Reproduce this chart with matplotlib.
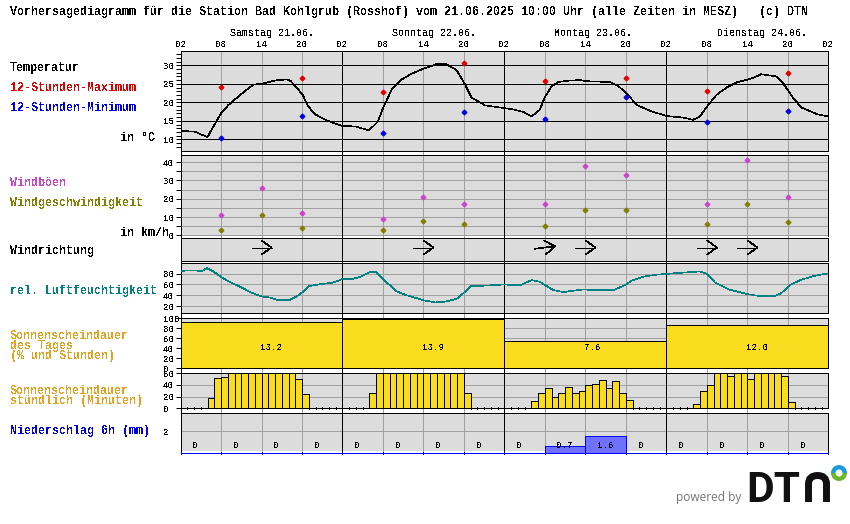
import numpy as np
import matplotlib
matplotlib.use("Agg")
import matplotlib.pyplot as plt
from matplotlib.patches import Wedge, PathPatch
from matplotlib.path import Path

# Stunden seit Samstag 02:00
temp_hours = [0, 2.1, 4.0, 5.0, 6.0, 7.1, 9.1, 10.8, 12, 14, 15.7, 16.3, 17.2, 18.1, 18.9, 19.9, 21.6, 22.9, 24,
              26, 27.9, 29.2, 30, 31.3, 32.8, 34.2, 36, 37.9, 39.4, 40.9, 42.2, 43.1, 45.1, 47.8,
              49.3, 50.8, 52, 53.2, 54, 55, 56, 57.7, 59.2, 60.2, 63.6, 64.8, 66.1, 67.6, 69.6, 72,
              74.5, 75.9, 76.9, 78.2, 79.4, 80.9, 82.4, 84.1, 85.1, 86, 88.3, 89.3, 90.8, 92, 94.3, 96]
temp_values = [12.3, 12.1, 10.6, 13.9, 17.0, 19.3, 22.4, 24.8, 25, 25.9, 26.2, 25.8, 24, 22, 19, 16.8, 15.2, 14.3, 13.6,
               13.5, 12.4, 14.7, 18.4, 23.5, 26.2, 27.7, 29.1, 30.3, 30.3, 28.7, 24.7, 21.3, 19.2, 18.5,
               18.1, 17.4, 16.2, 17.9, 21.5, 24.4, 25.5, 25.9, 26, 25.7, 25.5, 24.5, 22.4, 19.3, 17.7, 16.3,
               15.9, 15.3, 16.1, 19.3, 22, 24, 25.4, 26.2, 26.8, 27.6, 27, 25.1, 21.1, 18.6, 16.8, 16.2]
marker_hours = [6, 18, 30, 42, 54, 66, 78, 90]
temp_max = [24.05, 26.5, 22.7, 30.5, 25.7, 26.5, 23.2, 27.8]
temp_min = [10.3, 16.2, 11.6, 17.3, 15.4, 21.4, 14.6, 17.8]

wind_hours = [6, 12, 18, 30, 36, 42, 54, 60, 66, 78, 84, 90]
gusts = [11, 26, 12, 9, 21, 17, 17, 38, 33, 17, 41, 21]
wind_speed = [3, 11, 4, 3, 8, 6, 5, 14, 14, 6, 17, 7]
dir_hours = [12, 36, 54, 60, 78, 84]
wind_dir = [270, 270, 263, 270, 270, 270]

hum_hours = [0, 0.7, 2.4, 3.1, 3.9, 4.9, 6, 7.1, 8.8, 10.5, 12, 13.3, 14.5, 16.1, 17.2, 18.1, 19, 20.4, 22.6, 24,
             25.5, 26.8, 28, 29, 30, 32, 33.3, 36, 37.7, 39.2, 40.9, 41.9, 43, 45.4, 47.8,
             49.6, 50.4, 52, 53.2, 55.2, 56.7, 58.4, 59.9, 61.2, 64.1, 65.9, 66.8, 68.6, 70.5,
             73.5, 77, 78, 79.2, 81.2, 83.9, 85.6, 88.1, 89, 90.3, 91.8, 93.8, 96]
hum_values = [83.7, 86, 86, 83.7, 90, 83.7, 74, 66, 56, 45, 38, 36, 31, 31, 38, 46, 57, 60, 63.5, 70,
              70, 75, 82.5, 82.5, 70, 47.5, 41, 31, 27, 28.5, 33.5, 44, 57, 58, 60,
              59, 59, 68, 65, 50, 46, 49, 51, 49.4, 49.4, 59, 67, 74.5, 78,
              81, 84, 79.4, 63.5, 51, 42.6, 39, 39, 44, 59, 68, 75.7, 80.6]

day_starts = [0, 24, 48, 72]
sun_percent = [93, 98, 54, 86]
sun_hours = ["13.2", "13.9", "7.6", "12.0"]
sun_label_x = [13.4, 37.4, 61.0, 85.4]

sun_hourly = [0, 0, 0, 0, 17, 52, 53, 60, 60, 60, 60, 60, 60, 60, 60, 60, 60, 50, 24, 0, 0, 0, 0, 0,
              0, 0, 0, 0, 26, 60, 60, 60, 60, 60, 60, 60, 60, 60, 60, 60, 60, 60, 26, 0, 0, 0, 0, 0,
              0, 0, 0, 0, 12, 26, 34, 19, 26, 36, 26, 29, 40, 41, 48, 34, 47, 26, 14, 0, 0, 0, 0, 0,
              0, 0, 0, 0, 7, 29, 40, 60, 60, 55, 60, 60, 50, 60, 60, 60, 60, 55, 10, 0, 0, 0, 0, 0]

rain_6h = [0, 0, 0, 0, 0, 0, 0, 0, 0, 0.7, 1.6, 0, 0, 0, 0, 0]
rain_labels = ["0", "0", "0", "0", "0", "0", "0", "0", "0", "0.7", "1.6", "0", "0", "0", "0", "0"]

day_titles = ["Samstag 21.06.", "Sonntag 22.06.", "Montag 23.06.", "Dienstag 24.06."]
day_title_px = [272, 434, 593, 762]
hour_labels = ["02", "08", "14", "20"] * 4 + ["02"]

title = "Vorhersagediagramm für die Station Bad Kohlgrub (Rosshof) vom 21.06.2025 10:00 Uhr (alle Zeiten in MESZ)   (c) DTN"

GREY = "#dcdcdc"
GRID = "#a0a0a0"
YELLOW = "#fadc1e"
ORANGE = "#e8a020"
BLUE = "#0000ff"
LW = 0.72

plt.rcParams["font.family"] = ["Liberation Mono", "DejaVu Sans Mono"]
plt.rcParams["text.antialiased"] = False
plt.rcParams["lines.antialiased"] = False
plt.rcParams["patch.antialiased"] = False
plt.rcParams["axes.linewidth"] = LW

W, H = 850, 524
fig = plt.figure(figsize=(W / 100, H / 100), dpi=100)


def panel(top, bottom, ylim, face=GREY, left=180.5, right=828.5):
    ax = fig.add_axes([left / W, 1 - bottom / H, (right - left) / W, (bottom - top) / H])
    ax.set_facecolor(face)
    ax.set_xlim(0, 96)
    ax.set_ylim(*ylim)
    ax.set_xticks([])
    ax.tick_params(axis="y", length=3.6, width=LW, labelsize=6.6, pad=9)
    return ax


def left_labels(ax):
    for lab in ax.get_yticklabels():
        lab.set_ha("left")


def verticals(ax, zorder=1):
    ax.vlines([6, 12, 18, 30, 36, 42, 54, 60, 66, 78, 84, 90], *ax.get_ylim(), color=GRID, lw=LW, zorder=zorder)
    ax.vlines([24, 48, 72], *ax.get_ylim(), color="black", lw=LW, zorder=zorder + 0.1)


# Hintergrund, damit die Senkrechten auch durch die weissen Streifen laufen
ax_bg = panel(50.5, 451, (0, 1), face="white")
ax_bg.set_yticks([])
for s in ax_bg.spines.values():
    s.set_visible(False)
verticals(ax_bg)
ax_bg.vlines([0, 96], 0, 1, color="black", lw=LW)

# Temperatur
ax_t = panel(50.5, 150.5, (7, 34))
ax_t.set_yticks(range(8, 34))
ax_t.set_yticklabels([str(v) if v % 5 == 0 and v >= 10 else "" for v in range(8, 34)])
left_labels(ax_t)
ax_t.hlines([10, 15, 20, 25, 30], 0, 96, color="black", lw=LW, zorder=1.5)
verticals(ax_t)
ax_t.plot(temp_hours, temp_values, color="black", lw=0.45, zorder=3)
ax_t.plot(marker_hours, temp_max, "D", color="#e00000", ms=2.4, zorder=4)
ax_t.plot(marker_hours, temp_min, "D", color="#0000e0", ms=2.4, zorder=4)
ax_top = ax_t.secondary_xaxis("top")
ax_top.set_xticks(range(0, 97, 6))
ax_top.set_xticklabels(hour_labels)
ax_top.tick_params(length=0, labelsize=6.6, pad=1)
ax_top.spines["top"].set_visible(False)

# Wind
ax_w = panel(155.3, 236, (-0.4, 43.8))
ax_w.set_yticks(range(0, 41, 5))
ax_w.set_yticklabels([" 0", "", "10", "", "20", "", "30", "", "40"])
left_labels(ax_w)
ax_w.hlines(range(0, 41, 5), 0, 96, color=GRID, lw=LW, zorder=1)
verticals(ax_w)
ax_w.plot(wind_hours, gusts, "D", color="#cc44cc", ms=2.4, zorder=4)
ax_w.plot(wind_hours, wind_speed, "D", color="#808000", ms=2.4, zorder=4)
ax_w.spines["bottom"].set_visible(False)

# Windrichtung
ax_d = panel(238.3, 260.7, (-11.2, 11.2))
ax_d.set_yticks([])
verticals(ax_d)
for h, d in zip(dir_hours, wind_dir):
    a = np.radians(270 - d)
    ux, uy = np.cos(a), np.sin(a)
    px = 6.75  # Pixel je Stunde
    tip = (h + 10 * ux / px, 2 + 10 * uy)
    tail = (h - 10 * ux / px, 2 - 10 * uy)
    ax_d.plot([tail[0], tip[0]], [tail[1], tip[1]], color="black", lw=0.45, zorder=3)
    for side in (-1, 1):
        hx = h + (-side * 7 * uy) / px
        hy = 2 + side * 7 * ux
        ax_d.plot([hx, tip[0]], [hy, tip[1]], color="black", lw=0.45, zorder=3)

# Luftfeuchtigkeit
ax_h = panel(263.3, 313.3, (7, 99))
ax_h.set_yticks([20, 40, 60, 80])
left_labels(ax_h)
ax_h.hlines([20, 40, 60, 80], 0, 96, color=GRID, lw=LW, zorder=1)
verticals(ax_h)
ax_h.plot(hum_hours, hum_values, color="#008080", lw=0.45, zorder=3)

# Sonnenscheindauer des Tages
ax_s = panel(318.3, 368.3, (0, 100))
ax_s.set_yticks(range(0, 101, 20))
left_labels(ax_s)
ax_s.hlines([20, 40, 60, 80], 0, 96, color=GRID, lw=LW, zorder=1)
verticals(ax_s)
ax_s.bar(day_starts, sun_percent, width=24, align="edge", color=YELLOW, edgecolor="black", lw=LW, zorder=2)
for x, txt in zip(sun_label_x, sun_hours):
    ax_s.text(x, 42.6, txt, ha="center", va="center", fontsize=6.6, zorder=5)

# Sonnenschein stuendlich
ax_m = panel(373.3, 408.3, (0, 60))
ax_m.set_yticks([0, 20, 40, 60])
left_labels(ax_m)
ax_m.hlines([20, 40], 0, 96, color=GRID, lw=LW, zorder=1)
verticals(ax_m)
hours = np.arange(96)
ax_m.bar(hours, sun_hourly, width=1, align="edge", color=YELLOW, edgecolor="black", lw=LW, zorder=2)
empty = [h for h, v in zip(hours, sun_hourly) if v == 0 and h % 24 != 0]
ax_m.vlines(empty, -2, 2, color="black", lw=LW, clip_on=False, zorder=3)

# Niederschlag
ax_r = panel(413.3, 453.3, (0, 3.64), face="white")
ax_r.axhspan(0.2, 3.64, color=GREY, lw=0, zorder=0)
ax_r.set_yticks([2])
ax_r.tick_params(axis="y", length=0, pad=12.5)
left_labels(ax_r)
ax_r.hlines([2], 0, 96, color=GRID, lw=LW, zorder=1)
ax_r.vlines([6, 12, 18, 30, 36, 42, 54, 60, 66, 78, 84, 90], 0.2, 3.64, color=GRID, lw=LW, zorder=1)
ax_r.vlines([24, 48, 72], 0.2, 3.64, color="black", lw=LW, zorder=1.1)
ax_r.bar(np.arange(16) * 6, rain_6h, width=6, align="edge", color="#7070ff", edgecolor=BLUE, lw=LW, zorder=2)
for i, txt in enumerate(rain_labels):
    off = 3 if "." in txt else 2.25
    ax_r.text(i * 6 + off, 0.75, txt, ha="center", va="center", fontsize=6.6, zorder=5)
ax_r.spines["bottom"].set_color(BLUE)
ax_r.spines["bottom"].set_zorder(6)
ax_r.spines["left"].set_bounds(0.2, 3.64)
ax_r.spines["right"].set_bounds(0.2, 3.64)
ax_r.vlines(range(0, 97, 6), -0.1, 0.1, color=BLUE, lw=LW, clip_on=False, zorder=6)


# Beschriftung links
def label(px, py, txt, color="black", bold=True, size=8.4):
    fig.text(px / W, 1 - py / H, txt, color=color, fontsize=size, va="center", ha="left",
             fontweight="bold" if bold else "normal")


label(10, 12, title)
label(10, 68, "Temperatur")
label(10, 88, "12-Stunden-Maximum", "#e00000")
label(10, 108, "12-Stunden-Minimum", "#0000e0")
label(120, 138, "in °C")
label(10, 183, "Windböen", "#cc44cc")
label(10, 203, "Windgeschwindigkeit", "#808000")
label(120, 233, "in km/h")
label(10, 251, "Windrichtung")
label(10, 291, "rel. Luftfeuchtigkeit", "#008080")
label(10, 336, "Sonnenscheindauer", ORANGE)
label(10, 346, "des Tages", ORANGE)
label(10, 356, "(% und Stunden)", ORANGE)
label(10, 391, "Sonnenscheindauer", ORANGE)
label(10, 401, "stündlich (Minuten)", ORANGE)
label(10, 431, "Niederschlag 6h (mm)", "#0000e0")

for px, txt in zip(day_title_px, day_titles):
    fig.text(px / W, 1 - 33 / H, txt, fontsize=7.2, ha="center", va="center")

# Logo
ax_logo = fig.add_axes([0, 0, 1, 1], facecolor="none")
ax_logo.set_xlim(0, W)
ax_logo.set_ylim(H, 0)
ax_logo.axis("off")
ax_logo.text(709, 497, "powered by", family="Open Sans", fontsize=8.6, color="#777777",
             ha="center", va="center", antialiased=True)
ax_logo.text(746, 502, "DT", family="Roboto", fontweight="bold", fontsize=30.5, color="#111111",
             ha="left", va="baseline", antialiased=True)
n_path = Path([(808.5, 502), (808.5, 484), (808.5, 475.5), (817.5, 475.5), (826.5, 475.5), (826.5, 484), (826.5, 502)],
              [Path.MOVETO, Path.LINETO, Path.CURVE3, Path.CURVE3, Path.CURVE3, Path.CURVE3, Path.LINETO])
ax_logo.add_patch(PathPatch(n_path, fc="none", ec="#111111", lw=5.0, capstyle="butt", antialiased=True))
ax_logo.add_patch(Wedge((839, 473), 8, 180, 360, width=4.5, fc="#1f9bd8", ec="none", antialiased=True))
ax_logo.add_patch(Wedge((839, 473), 8, 0, 180, width=4.5, fc="#6cb52d", ec="none", antialiased=True))

fig.savefig("out.png", dpi=100)
